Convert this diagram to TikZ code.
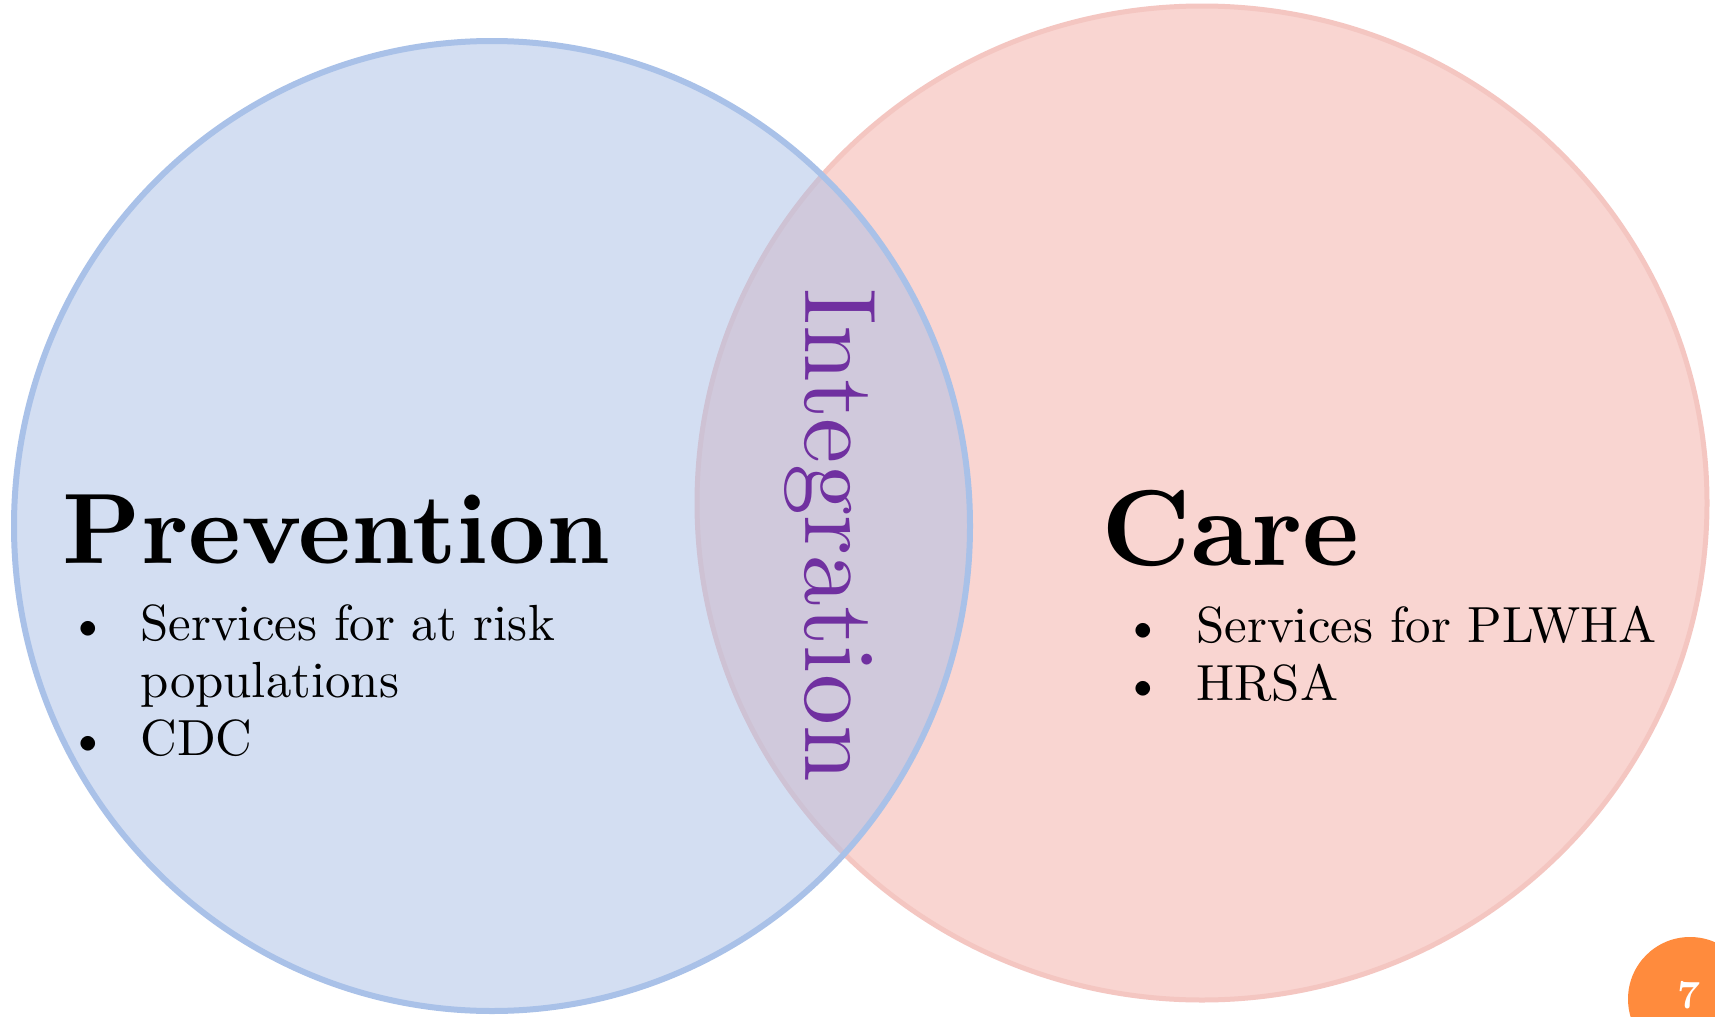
\documentclass[tikz,border=0pt]{standalone}
\usepackage{fontspec}
\setmainfont{lmroman10-regular.otf}[BoldFont=lmroman10-bold.otf]
\usepackage{tikz}
\usetikzlibrary{positioning}

\definecolor{prevfill}{HTML}{A9BFE7}
\definecolor{prevline}{HTML}{A9C1E8}
\definecolor{carefill}{HTML}{F9D5D1}
\definecolor{careline}{HTML}{F4C6C1}
\definecolor{integcol}{HTML}{7030A0}
\definecolor{pagecol}{HTML}{FF8B3D}

\begin{document}
\begin{tikzpicture}[x=0.5pt,y=-0.5pt,
	headtext/.style={inner sep=0pt,anchor=base west,font=\fontsize{50}{60}\selectfont\bfseries},
	itemtext/.style={inner sep=0pt,anchor=base west,font=\fontsize{25.4}{29}\selectfont},
	bulletmark/.style={inner sep=0pt,anchor=base,font=\fontsize{25.4}{29}\selectfont}]
						\fill[white] (0,0) rectangle (1715,1017);
						\useasboundingbox (0,0) rectangle (1715,1017);

						% the two sets
						\draw[careline,line width=2.5pt,fill=carefill] (1202,503) ellipse [x radius=505,y radius=497];
						\draw[prevline,line width=3pt,fill=prevfill,fill opacity=0.5] (492,526) ellipse [x radius=478,y radius=485];

						% page number
						\fill[pagecol] (1690,999) circle [radius=62];
						\node[inner sep=0pt,anchor=base,text=white,font=\fontsize{20}{24}\selectfont\bfseries] (pagenum) at (1689,1008) {7};

						\node[headtext] (prevention) at (62,563) {Prevention};
						\node[bulletmark] (pbul1) at (88,640) {\textbullet};
						\node[itemtext] (pitem1) at (140,640) {Services for at risk};
						\node[itemtext] (pitem2) at (140,697) {populations};
						\node[bulletmark] (pbul2) at (88,755) {\textbullet};
						\node[itemtext] (pitem3) at (140,755) {CDC};

						\node[headtext,font=\fontsize{54}{65}\selectfont\bfseries] (care) at (1101,565) {Care};
						\node[bulletmark] (cbul1) at (1143,642) {\textbullet};
						\node[itemtext] (citem1) at (1196,642) {Services for PLWHA};
						\node[bulletmark] (cbul2) at (1143,700) {\textbullet};
						\node[itemtext] (citem2) at (1196,700) {HRSA};

						\node[inner sep=0pt,anchor=base,rotate=-90,text=integcol,font=\fontsize{51}{61}\selectfont] (integration) at (805,535) {Integration};
					\end{tikzpicture}
\end{document}
